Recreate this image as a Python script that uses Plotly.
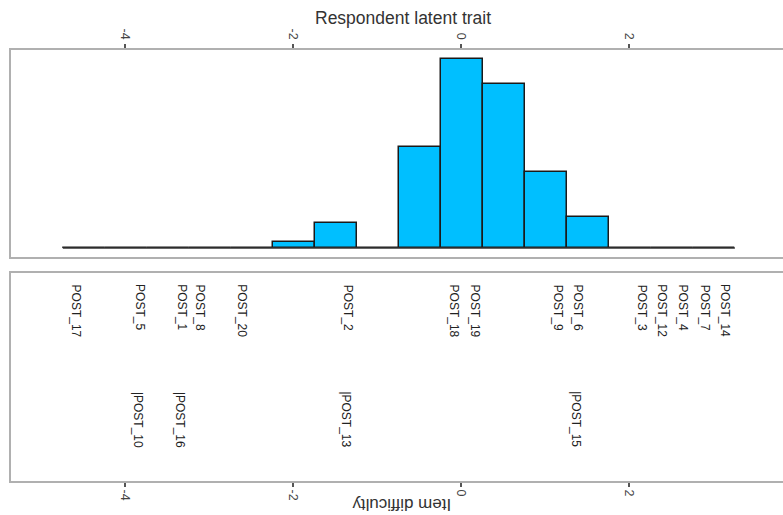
import plotly.graph_objects as go

# ---- data ----
bin_edges = [-4.74, -4.24, -3.74, -3.24, -2.74, -2.24, -1.74, -1.24, -0.74,
             -0.24, 0.26, 0.76, 1.26, 1.76, 2.26, 2.76, 3.26]
bin_counts = [0, 0, 0, 0, 0, 1, 4, 0, 16, 30, 26, 12, 5, 0, 0, 0]

items_row1 = ["POST_17", "POST_5", "POST_1", "POST_8", "POST_20", "POST_2",
              "POST_18", "POST_19", "POST_9", "POST_6", "POST_3", "POST_12",
              "POST_4", "POST_7", "POST_14"]
diff_row1 = [-4.58, -3.83, -3.32, -3.11, -2.60, -1.35,
             -0.08, 0.17, 1.15, 1.39, 2.15, 2.40, 2.64, 2.90, 3.14]

items_row2 = ["POST_10", "POST_16", "POST_13", "POST_15"]
diff_row2 = [-3.85, -3.35, -1.38, 1.36]

tick_vals = [-4, -2, 0, 2]
tick_text = ["-4", "-2", "0", "2"]

x_range = [-5.357, 3.833]

FONT = "Liberation Sans, Arial, sans-serif"
FRAME = "#b0b0b0"

centers = [(a + b) / 2 for a, b in zip(bin_edges[:-1], bin_edges[1:])]
widths = [b - a for a, b in zip(bin_edges[:-1], bin_edges[1:])]

fig = go.Figure()

fig.add_trace(go.Scatter(
    x=[bin_edges[0], bin_edges[-1]], y=[0, 0], mode="lines",
    line=dict(color="#333333", width=1.5), xaxis="x", yaxis="y",
    showlegend=False, hoverinfo="skip"))

fig.add_trace(go.Bar(
    x=centers, y=bin_counts, width=widths,
    marker=dict(color="#00BFFF", line=dict(color="#1a1a1a", width=1.5)),
    xaxis="x", yaxis="y", showlegend=False))

# invisible trace to activate the lower panel
fig.add_trace(go.Scatter(x=diff_row1, y=[0.5] * len(diff_row1), mode="markers",
                         marker=dict(opacity=0), xaxis="x2", yaxis="y2",
                         showlegend=False, hoverinfo="skip"))

annotations = []
for name, d in zip(items_row1, diff_row1):
    annotations.append(dict(x=d, y=0.955, xref="x2", yref="y2 domain",
                            text=name, textangle=90, showarrow=False,
                            xanchor="center", yanchor="top",
                            font=dict(family=FONT, size=12, color="#222222")))
for name, d in zip(items_row2, diff_row2):
    annotations.append(dict(x=d, y=0.44, xref="x2", yref="y2 domain",
                            text="|" + name, textangle=90, showarrow=False,
                            xanchor="center", yanchor="top",
                            font=dict(family=FONT, size=12, color="#222222")))

annotations.append(dict(x=0.508, y=1.0742, xref="paper", yref="paper",
                        text="Respondent latent trait", showarrow=False,
                        xanchor="center", yanchor="middle",
                        font=dict(family=FONT, size=17.5, color="#333333")))
annotations.append(dict(x=0.506, y=-0.0557, xref="paper", yref="paper",
                        text="Item difficulty", showarrow=False, textangle=180,
                        xanchor="center", yanchor="middle",
                        font=dict(family=FONT, size=17, color="#333333")))

axis_common = dict(range=x_range, tickmode="array", tickvals=tick_vals,
                   ticktext=tick_text, tickangle=90, ticks="outside", ticklen=4,
                   tickwidth=1.5, tickcolor="#555555", showgrid=False,
                   zeroline=False, showline=True, linecolor=FRAME, linewidth=2,
                   mirror=True, automargin=False,
                   tickfont=dict(family=FONT, size=12.5, color="#444444"))

yaxis_common = dict(showticklabels=False, ticks="", showgrid=False,
                    zeroline=False, showline=True, mirror=False,
                    linecolor=FRAME, linewidth=2, automargin=False)

fig.update_layout(
    width=783, height=515,
    margin=dict(l=11, r=0, t=50, b=34, autoexpand=False),
    paper_bgcolor="white", plot_bgcolor="white",
    bargap=0,
    xaxis=dict(axis_common, side="top", anchor="y"),
    yaxis=dict(yaxis_common, domain=[0.5197, 1.0], range=[-1.43, 31.43],
               anchor="x"),
    xaxis2=dict(axis_common, side="bottom", anchor="y2"),
    yaxis2=dict(yaxis_common, domain=[0.0, 0.4826], range=[0, 1],
                anchor="x2"),
    annotations=annotations,
)

fig.write_html(
    "out.html",
    config={"displayModeBar": False},
    post_script="document.body.style.margin='0';document.body.style.overflow='hidden';",
)
